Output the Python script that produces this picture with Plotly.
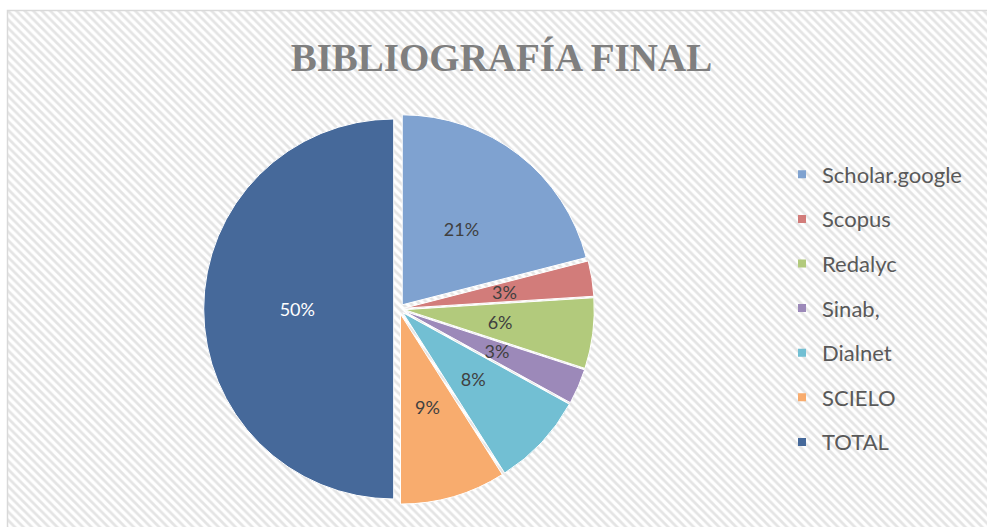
import plotly.graph_objects as go

labels = ["Scholar.google", "Scopus", "Redalyc", "Sinab,", "Dialnet", "SCIELO", "TOTAL"]
values = [21, 3, 6, 3, 8, 9, 50]
colors = ["#7FA2D0", "#D27C7A", "#B2CA7C", "#9C89B9", "#72BFD3", "#F8AC6E", "#46699A"]
label_colors = ["#404040"] * 6 + ["#FFFFFF"]

W, H = 987, 527
fig = go.Figure()

# hatched background
fig.add_trace(go.Bar(
    x=[0], y=[1], width=[1],
    marker=dict(color="white", line=dict(width=0),
                pattern=dict(shape="\\", fgcolor="#E4E4E4", bgcolor="white",
                             size=6, solidity=0.45, fillmode="replace")),
    hoverinfo="skip", showlegend=False,
))

# legend entries
for i, (lab, col) in enumerate(zip(labels, colors)):
    fig.add_trace(go.Scatter(
        x=[None], y=[None], mode="markers", name=lab,
        marker=dict(symbol="square", size=8, color=col),
        legendgroup=f"g{i}", showlegend=True,
    ))

def dom(cx, cy, half):
    return dict(x=[(cx - half) / W, (cx + half) / W], y=[1 - (cy + half) / H, 1 - (cy - half) / H])

cx, cy = 399, 309
R, pull_px = 190, 5.3
fig.add_trace(go.Pie(
    labels=labels, values=values, sort=False, direction="clockwise", rotation=0,
    marker=dict(colors=colors, line=dict(color="white", width=1)),
    pull=[pull_px / R] * len(values),
    textinfo="none",
    domain=dom(cx, cy, R + pull_px),
    showlegend=False, hoverinfo="skip",
))

# transparent ring carrying the percentage labels
R2 = 111
fig.add_trace(go.Pie(
    labels=labels, values=values, sort=False, direction="clockwise", rotation=0,
    marker=dict(colors=["rgba(0,0,0,0)"] * len(values), line=dict(width=0)),
    hole=0.74,
    pull=[pull_px / R2] * len(values),
    textinfo="percent", texttemplate="%{percent:.0%}",
    textposition="inside", insidetextorientation="horizontal",
    textfont=dict(family="Lato", size=18, color=label_colors),
    domain=dom(cx, cy, R2 + pull_px),
    showlegend=False, hoverinfo="skip",
))

fig.update_layout(
    width=W, height=H,
    margin=dict(l=0, r=0, t=0, b=0),
    paper_bgcolor="white", plot_bgcolor="white",
    xaxis=dict(domain=[7 / W, 1], range=[-0.5, 0.5], visible=False, fixedrange=True),
    yaxis=dict(domain=[0, 1 - 10 / H], range=[0, 1], visible=False, fixedrange=True),
    bargap=0,
    title=dict(text="BIBLIOGRAFÍA FINAL", x=0.508, xanchor="center", y=1 - 57 / H, yanchor="middle",
               font=dict(family="Liberation Serif", size=39, color="#7F7F7F", weight="bold")),
    legend=dict(x=782 / W, xanchor="left", y=1 - 308.5 / H, yanchor="middle",
                font=dict(family="Lato", size=22, color="#595959"),
                tracegroupgap=13, bgcolor="rgba(0,0,0,0)", itemclick=False),
    uniformtext=dict(minsize=18, mode="show"),
    shapes=[dict(type="rect", xref="paper", yref="paper", x0=7.5 / W, x1=1.01, y0=-0.01, y1=1 - 10.5 / H,
                 line=dict(color="#D9D9D9", width=1.5), fillcolor="rgba(0,0,0,0)", layer="above")],
)

fig.write_html("out.html", config={"displayModeBar": False},
               post_script="document.body.style.margin='0px';")
